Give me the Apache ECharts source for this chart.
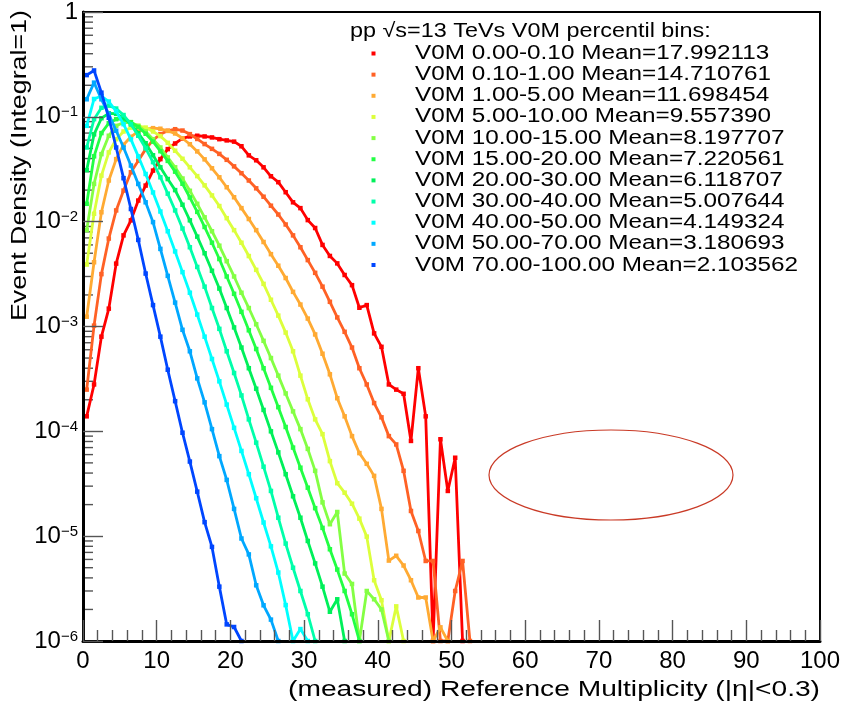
<!DOCTYPE html>
<html>
<head>
<meta charset="utf-8">
<title>Event density vs reference multiplicity</title>
<script src="https://cdn.jsdelivr.net/npm/echarts@6.0.0/dist/echarts.min.js"></script>
<style>
  html, body { margin: 0; padding: 0; background: #fff; }
  #chart { width: 849px; height: 712px; }
</style>
</head>
<body>
<div id="chart"></div>
<script>
// bin centres of the multiplicity histogram
const binCenters = [];
for (let i = 0; i < 53; i++) binCenters.push(i + 0.5);

const percentileBins = ['0.00-0.10', '0.10-1.00', '1.00-5.00', '5.00-10.00', '10.00-15.00', '15.00-20.00',
  '20.00-30.00', '30.00-40.00', '40.00-50.00', '50.00-70.00', '70.00-100.00'];
const means = ['17.992113', '14.710761', '11.698454', '9.557390', '8.197707', '7.220561',
  '6.118707', '5.007644', '4.149324', '3.180693', '2.103562'];
const colors = ['#ff0000', '#ff6125', '#ffaa33', '#dcff3c', '#84ff44', '#22ff44',
  '#00f05a', '#00ffaa', '#00ffff', '#00a8ff', '#0046ff'];

// event density per bin (values at 1e-6 are empty bins drawn on the frame)
const v0m_0_01 = [1.39e-4, 2.8e-4, 8.0e-4, 1.48e-3, 3.98e-3, 7.4e-3, 0.0103, 0.0159, 0.0221, 0.0307,
  0.0395, 0.0492, 0.0557, 0.0622, 0.065, 0.066, 0.065, 0.0636, 0.0612, 0.0596,
  0.058, 0.0524, 0.0429, 0.0385, 0.033, 0.0271, 0.0238, 0.0191, 0.0153, 0.01346,
  0.01035, 8.7e-3, 6.0e-3, 4.71e-3, 4.0e-3, 3.1e-3, 2.48e-3, 1.51e-3, 1.6e-3, 8.6e-4,
  6.4e-4, 2.8e-4, 2.5e-4, 2.28e-4, 8.1e-5, 4.0e-4, 1.39e-4, 1e-6, 8.4e-5, 2.7e-5,
  5.6e-5, 1e-6];
const v0m_01_1 = [2.5e-4, 1.02e-3, 3.16e-3, 6.9e-3, 0.0128, 0.0198, 0.0296, 0.0382, 0.0492, 0.06,
  0.0684, 0.0736, 0.0762, 0.074, 0.0684, 0.0615, 0.055, 0.0495, 0.0443, 0.0389,
  0.0337, 0.029, 0.0247, 0.0208, 0.0173, 0.0142, 0.0117, 9.4e-3, 7.4e-3, 5.7e-3,
  4.3e-3, 3.25e-3, 2.4e-3, 1.72e-3, 1.22e-3, 8.9e-4, 6.3e-4, 4.0e-4, 2.8e-4, 1.86e-4,
  1.36e-4, 9.0e-5, 7.5e-5, 4.2e-5, 1.74e-5, 1.12e-5, 5.8e-6, 5.8e-6, 1e-6, 1e-6,
  3e-6, 5.8e-6, 1e-6];
const v0m_1_5 = [1.24e-3, 4.1e-3, 0.0123, 0.0247, 0.0395, 0.0542, 0.0645, 0.0725, 0.0762, 0.078,
  0.077, 0.0735, 0.0694, 0.0625, 0.0548, 0.0468, 0.0393, 0.0323, 0.0265, 0.0213,
  0.0171, 0.01346, 0.0106, 8.3e-3, 6.4e-3, 4.9e-3, 3.8e-3, 2.9e-3, 2.14e-3, 1.62e-3,
  1.19e-3, 8.4e-4, 5.5e-4, 3.5e-4, 2.07e-4, 1.39e-4, 9.0e-5, 6.2e-5, 4.9e-5, 3.76e-5,
  1.82e-5, 5.85e-6, 6.5e-6, 5.25e-6, 3.8e-6, 2.6e-6, 2.6e-6, 1e-6, 1.35e-6, 1e-6];
const v0m_5_10 = [3.9e-3, 0.0119, 0.0275, 0.0458, 0.0612, 0.0725, 0.079, 0.082, 0.079, 0.0725,
  0.0655, 0.0565, 0.0475, 0.0398, 0.033, 0.0272, 0.0222, 0.0178, 0.0141, 0.0108,
  8.3e-3, 6.3e-3, 4.7e-3, 3.47e-3, 2.55e-3, 1.8e-3, 1.27e-3, 8.75e-4, 5.8e-4, 3.4e-4,
  2.02e-4, 1.3e-4, 9.4e-5, 5.2e-5, 3.2e-5, 2.6e-5, 2.04e-5, 1.47e-5, 9.9e-6, 3.8e-6,
  2.45e-6, 1e-6, 2.14e-6, 1e-6];
const v0m_10_15 = [8.3e-3, 0.0229, 0.0441, 0.066, 0.082, 0.0883, 0.0883, 0.082, 0.0725, 0.0612,
  0.051, 0.041, 0.033, 0.0258, 0.0197, 0.0148, 0.011, 8.1e-3, 5.9e-3, 4.2e-3,
  3.0e-3, 2.1e-3, 1.5e-3, 1.05e-3, 7.3e-4, 5.0e-4, 3.4e-4, 2.3e-4, 1.55e-4, 1.05e-4,
  6.8e-5, 4.2e-5, 2.1e-5, 1.3e-5, 1.7e-5, 4.4e-6, 3.5e-6, 1e-6, 3e-6, 2.5e-6,
  2e-6, 1e-6];
const v0m_15_20 = [0.0148, 0.042, 0.07, 0.087, 0.095, 0.095, 0.089, 0.08, 0.069, 0.058,
  0.047, 0.038, 0.03, 0.023, 0.017, 0.0124, 8.9e-3, 6.3e-3, 4.4e-3, 3.0e-3,
  2.05e-3, 1.38e-3, 9.2e-4, 6.1e-4, 4.0e-4, 2.6e-4, 1.7e-4, 1.1e-4, 7e-5, 4.5e-5,
  2.9e-5, 1.85e-5, 1.2e-5, 7.5e-6, 4.8e-6, 3e-6, 1.8e-6, 1e-6];
const v0m_20_30 = [0.031, 0.068, 0.097, 0.108, 0.107, 0.098, 0.085, 0.07, 0.056, 0.043,
  0.033, 0.0255, 0.02, 0.0145, 0.0103, 7.2e-3, 5e-3, 3.4e-3, 2.3e-3, 1.5e-3,
  9.8e-4, 6.3e-4, 4.0e-4, 2.55e-4, 1.6e-4, 1.0e-4, 6.3e-5, 3.9e-5, 2.4e-5, 1.5e-5,
  9e-6, 5.5e-6, 3.3e-6, 1.9e-6, 2.5e-6, 1e-6];
const v0m_30_40 = [0.051, 0.095, 0.122, 0.128, 0.12, 0.104, 0.085, 0.066, 0.05, 0.037,
  0.0265, 0.0185, 0.0128, 8.6e-3, 5.7e-3, 3.7e-3, 2.4e-3, 1.5e-3, 9.5e-4, 5.8e-4,
  3.6e-4, 2.2e-4, 1.3e-4, 7.8e-5, 4.6e-5, 2.7e-5, 1.5e-5, 8.5e-6, 5e-6, 3e-6,
  1.8e-6, 1e-6];
const v0m_40_50 = [0.082, 0.148, 0.158, 0.14, 0.113, 0.085, 0.061, 0.042, 0.0285, 0.019,
  0.0125, 8.1e-3, 5.2e-3, 3.3e-3, 2.1e-3, 1.3e-3, 8.0e-4, 4.9e-4, 3.0e-4, 1.8e-4,
  1.08e-4, 6.5e-5, 3.9e-5, 2.3e-5, 1.35e-5, 8e-6, 4.5e-6, 2.2e-6, 1e-6, 1.3e-6,
  1e-6];
const v0m_50_70 = [0.147, 0.212, 0.147, 0.106, 0.0736, 0.051, 0.0343, 0.0229, 0.0153, 9.9e-3,
  5.5e-3, 3.04e-3, 1.69e-3, 9.3e-4, 5.8e-4, 3.2e-4, 1.89e-4, 1.05e-4, 5.8e-5, 3.44e-5,
  1.82e-5, 9.5e-6, 6.7e-6, 3.4e-6, 2.19e-6, 1.6e-6, 1e-6];
const v0m_70_100 = [0.25, 0.277, 0.17, 0.098, 0.051, 0.026, 0.0132, 0.0067, 0.0032, 0.0016,
  8.0e-4, 3.87e-4, 1.94e-4, 9.7e-5, 5.15e-5, 2.66e-5, 1.36e-5, 7.9e-6, 3.3e-6, 1.44e-6,
  1.36e-6, 1e-6];

const seriesValues = [v0m_0_01, v0m_01_1, v0m_1_5, v0m_5_10, v0m_10_15, v0m_15_20,
  v0m_20_30, v0m_30_40, v0m_40_50, v0m_50_70, v0m_70_100];

const yMajor = [1e-6, 1e-5, 1e-4, 1e-3, 1e-2, 1e-1, 1];
// log minor ticks 2..9 x 10^k
const yMinor = [];
yMajor.slice(0, -1).forEach(d => { for (let m = 2; m <= 9; m++) yMinor.push(d * m); });

const FONT = 'Liberation Sans, Arial, Helvetica, sans-serif';
const TICK = { color: '#555', width: 1.4 };

const chart = echarts.init(document.getElementById('chart'));

const lineSeries = seriesValues.map((vals, i) => ({
  name: 'V0M ' + percentileBins[i],
  type: 'line',
  data: vals.map((v, j) => [binCenters[j], v]),
  symbol: 'rect',
  symbolSize: 4.5,
  showAllSymbol: true,
  color: colors[i],
  lineStyle: { width: 2.8, color: colors[i] },
  itemStyle: { color: colors[i] },
  z: 3 + i,
  silent: true
}));

const minorTickSeries = {
  type: 'custom',
  silent: true,
  z: 1,
  data: yMinor.map(v => [0, v]),
  renderItem: (params, api) => {
    const p = api.coord([api.value(0), api.value(1)]);
    return {
      type: 'line',
      shape: { x1: p[0], y1: p[1], x2: p[0] + 10, y2: p[1] },
      style: { stroke: TICK.color, lineWidth: TICK.width }
    };
  }
};

// legend block drawn as text so its wide ROOT lettering can be matched
const legendTop = 53.5, legendStep = 21.15;
const legendGraphics = [{
  type: 'text',
  x: 350, y: 31,
  scaleX: 1.17,
  style: { text: 'pp √s=13 TeVs V0M percentil bins:', font: '20px ' + FONT, fill: '#000', verticalAlign: 'middle' }
}];
percentileBins.forEach((b, i) => {
  const y = legendTop + i * legendStep;
  legendGraphics.push({
    type: 'rect',
    shape: { x: 371.5, y: y - 2, width: 4, height: 4 },
    style: { fill: colors[i] }
  });
  legendGraphics.push({
    type: 'text',
    x: 415, y: y,
    scaleX: 1.215,
    style: { text: 'V0M ' + b + ' Mean=' + means[i], font: '20px ' + FONT, fill: '#000', verticalAlign: 'middle' }
  });
});

chart.setOption({
  animation: false,
  backgroundColor: '#fff',
  grid: { left: 83, right: 29, top: 9, bottom: 71, show: true, borderColor: '#000', borderWidth: 2, backgroundColor: 'transparent' },
  xAxis: {
    type: 'value',
    min: 0, max: 100, interval: 10,
    z: 20,
    axisLine: { lineStyle: { color: '#000', width: 3 } },
    axisTick: { inside: true, length: 21, lineStyle: TICK },
    minorTick: { show: true, splitNumber: 5, length: 11, lineStyle: TICK },
    splitLine: { show: false },
    axisLabel: { fontSize: 24, fontFamily: FONT, color: '#000', margin: 8 }
  },
  yAxis: {
    type: 'log',
    logBase: 10,
    min: 1e-6, max: 1,
    splitNumber: 6,
    z: 20,
    axisLine: { lineStyle: { color: '#000', width: 3 } },
    axisTick: { inside: true, length: 20, lineStyle: TICK },
    splitLine: { show: false },
    axisLabel: {
      margin: 5,
      formatter: v => {
        const e = Math.round(Math.log10(v));
        return e === 0 ? '{b|1}' : '{b|10}{s|−' + (-e) + '}';
      },
      rich: {
        b: { fontSize: 24, fontFamily: FONT, color: '#000' },
        s: { fontSize: 15, fontFamily: FONT, color: '#000', verticalAlign: 'top' }
      }
    }
  },
  graphic: [
    {
      type: 'text',
      x: 820, y: 690,
      scaleX: 1.28,
      style: { text: '(measured) Reference Multiplicity (|η|<0.3)', font: '22px ' + FONT, fill: '#000', align: 'right', verticalAlign: 'middle' }
    },
    {
      type: 'text',
      x: 20, y: 10,
      rotation: Math.PI / 2,
      scaleX: 1.22,
      style: { text: 'Event Density (Integral=1)', font: '22px ' + FONT, fill: '#000', align: 'right', verticalAlign: 'middle' }
    },
    {
      type: 'ellipse',
      shape: { cx: 611, cy: 475, rx: 122, ry: 45 },
      style: { fill: null, stroke: '#c93a26', lineWidth: 1.2 }
    }
  ].concat(legendGraphics),
  series: [minorTickSeries].concat(lineSeries)
});
</script>
</body>
</html>
